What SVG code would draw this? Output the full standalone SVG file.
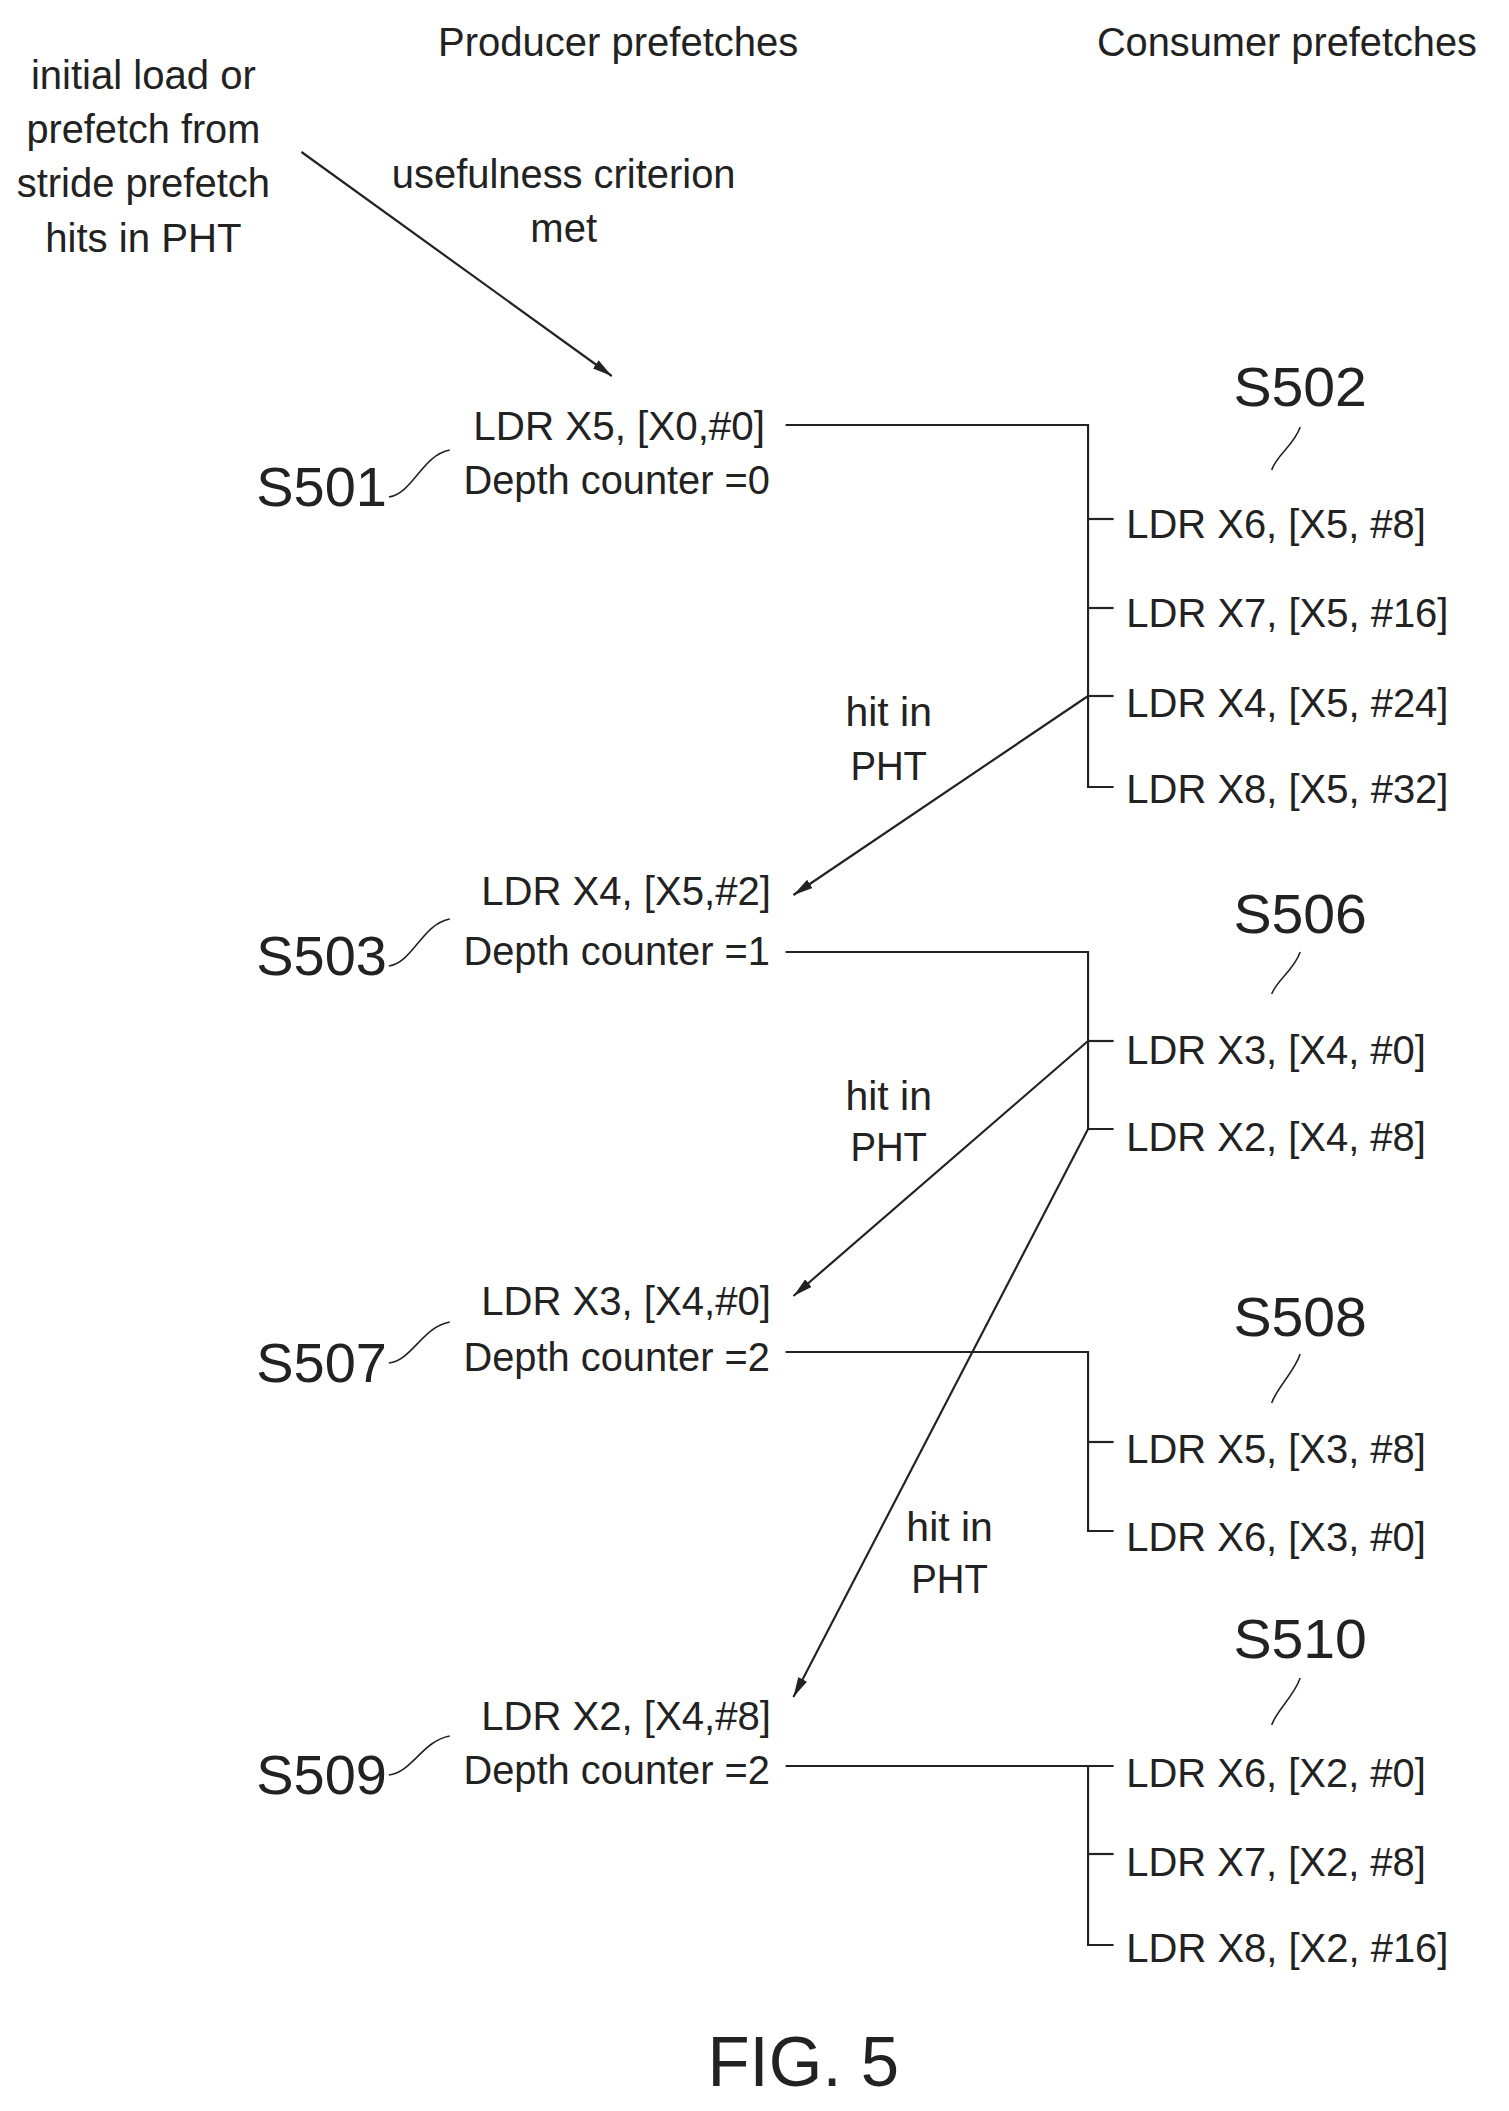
<svg xmlns="http://www.w3.org/2000/svg" width="1509" height="2111" viewBox="0 0 1509 2111">
<style>
text{font-family:"Liberation Sans",Arial,sans-serif;fill:#222;font-size:40px}
.s{font-size:56px}
.f{font-size:70px}
.m{text-anchor:middle}
line,path,polyline{stroke:#222;stroke-width:2.2;fill:none}
.ld{stroke-width:1.6}
</style>
<defs>
<marker id="ah" viewBox="0 0 20 10" refX="20" refY="5" markerWidth="20" markerHeight="10" markerUnits="userSpaceOnUse" orient="auto">
<path d="M0,0 L20,5 L0,10 Z" style="fill:#222;stroke:none"/>
</marker>
</defs>
<g transform="scale(0.982,1)">
<g id="headers">
<text x="446" y="56" textLength="367" lengthAdjust="spacingAndGlyphs">Producer prefetches</text>
<text x="1117" y="56" textLength="387" lengthAdjust="spacingAndGlyphs">Consumer prefetches</text>
</g>
<g id="initial">
<text class="m" x="146" y="89" textLength="229" lengthAdjust="spacingAndGlyphs">initial load or</text>
<text class="m" x="146" y="143" textLength="238" lengthAdjust="spacingAndGlyphs">prefetch from</text>
<text class="m" x="146" y="197" textLength="258" lengthAdjust="spacingAndGlyphs">stride prefetch</text>
<text class="m" x="146" y="252" textLength="200" lengthAdjust="spacingAndGlyphs">hits in PHT</text>
</g>
<g id="usefulness">
<text class="m" x="574" y="188" textLength="350" lengthAdjust="spacingAndGlyphs">usefulness criterion</text>
<text class="m" x="574" y="242" textLength="68" lengthAdjust="spacingAndGlyphs">met</text>
</g>
<g id="S501">
<text x="482" y="440" textLength="297" lengthAdjust="spacingAndGlyphs">LDR X5, [X0,#0]</text>
<text x="472" y="494" textLength="312" lengthAdjust="spacingAndGlyphs">Depth counter =0</text>
<text class="s" x="261" y="506" textLength="133" lengthAdjust="spacingAndGlyphs">S501</text>
<path class="ld" d="M396,497 C420,494 430,455 458,450"/>
</g>
<g id="S502">
<text class="s m" x="1324" y="406" textLength="136" lengthAdjust="spacingAndGlyphs">S502</text>
<path class="ld" d="M1324,427 C1318,445 1300,455 1295,470"/>
<text x="1147" y="538" textLength="305" lengthAdjust="spacingAndGlyphs">LDR X6, [X5, #8]</text>
<text x="1147" y="627" textLength="328" lengthAdjust="spacingAndGlyphs">LDR X7, [X5, #16]</text>
<text x="1147" y="717" textLength="328" lengthAdjust="spacingAndGlyphs">LDR X4, [X5, #24]</text>
<text x="1147" y="803" textLength="328" lengthAdjust="spacingAndGlyphs">LDR X8, [X5, #32]</text>
</g>
<g id="S503">
<text x="490" y="905" textLength="295" lengthAdjust="spacingAndGlyphs">LDR X4, [X5,#2]</text>
<text x="472" y="965" textLength="312" lengthAdjust="spacingAndGlyphs">Depth counter =1</text>
<text class="s" x="261" y="975" textLength="133" lengthAdjust="spacingAndGlyphs">S503</text>
<path class="ld" d="M396,966 C420,963 430,924 458,919"/>
</g>
<g id="S506">
<text class="s m" x="1324" y="933" textLength="136" lengthAdjust="spacingAndGlyphs">S506</text>
<path class="ld" d="M1324,952 C1318,970 1300,980 1295,994"/>
<text x="1147" y="1064" textLength="305" lengthAdjust="spacingAndGlyphs">LDR X3, [X4, #0]</text>
<text x="1147" y="1151" textLength="305" lengthAdjust="spacingAndGlyphs">LDR X2, [X4, #8]</text>
</g>
<g id="S507">
<text x="490" y="1315" textLength="295" lengthAdjust="spacingAndGlyphs">LDR X3, [X4,#0]</text>
<text x="472" y="1371" textLength="312" lengthAdjust="spacingAndGlyphs">Depth counter =2</text>
<text class="s" x="261" y="1382" textLength="133" lengthAdjust="spacingAndGlyphs">S507</text>
<path class="ld" d="M396,1363 C420,1360 430,1327 458,1322"/>
</g>
<g id="S508">
<text class="s m" x="1324" y="1336" textLength="136" lengthAdjust="spacingAndGlyphs">S508</text>
<path class="ld" d="M1324,1354 C1318,1372 1300,1388 1295,1403"/>
<text x="1147" y="1463" textLength="305" lengthAdjust="spacingAndGlyphs">LDR X5, [X3, #8]</text>
<text x="1147" y="1551" textLength="305" lengthAdjust="spacingAndGlyphs">LDR X6, [X3, #0]</text>
</g>
<g id="S509">
<text x="490" y="1730" textLength="295" lengthAdjust="spacingAndGlyphs">LDR X2, [X4,#8]</text>
<text x="472" y="1784" textLength="312" lengthAdjust="spacingAndGlyphs">Depth counter =2</text>
<text class="s" x="261" y="1794" textLength="133" lengthAdjust="spacingAndGlyphs">S509</text>
<path class="ld" d="M396,1775 C420,1772 430,1741 458,1736"/>
</g>
<g id="S510">
<text class="s m" x="1324" y="1658" textLength="136" lengthAdjust="spacingAndGlyphs">S510</text>
<path class="ld" d="M1324,1678 C1318,1696 1300,1710 1295,1725"/>
<text x="1147" y="1787" textLength="305" lengthAdjust="spacingAndGlyphs">LDR X6, [X2, #0]</text>
<text x="1147" y="1876" textLength="305" lengthAdjust="spacingAndGlyphs">LDR X7, [X2, #8]</text>
<text x="1147" y="1962" textLength="328" lengthAdjust="spacingAndGlyphs">LDR X8, [X2, #16]</text>
</g>
<g id="labels">
<text class="m" x="905" y="726" textLength="88" lengthAdjust="spacingAndGlyphs">hit in</text>
<text class="m" x="905" y="780" textLength="78" lengthAdjust="spacingAndGlyphs">PHT</text>
<text class="m" x="905" y="1110" textLength="88" lengthAdjust="spacingAndGlyphs">hit in</text>
<text class="m" x="905" y="1161" textLength="78" lengthAdjust="spacingAndGlyphs">PHT</text>
<text class="m" x="967" y="1541" textLength="88" lengthAdjust="spacingAndGlyphs">hit in</text>
<text class="m" x="967" y="1593" textLength="78" lengthAdjust="spacingAndGlyphs">PHT</text>
<text class="f m" x="818" y="2086" textLength="195" lengthAdjust="spacingAndGlyphs">FIG. 5</text>
</g>
<g id="connectors">
<line x1="307" y1="152" x2="623" y2="376" marker-end="url(#ah)"/>
<polyline points="800,425 1108,425 1108,787 1134,787"/>
<line x1="1108" y1="519" x2="1134" y2="519"/>
<line x1="1108" y1="608" x2="1134" y2="608"/>
<line x1="1108" y1="696" x2="1134" y2="696"/>
<polyline points="800,952 1108,952 1108,1129 1134,1129"/>
<line x1="1108" y1="1041" x2="1134" y2="1041"/>
<polyline points="800,1352 1108,1352 1108,1531 1134,1531"/>
<line x1="1108" y1="1442" x2="1134" y2="1442"/>
<line x1="800" y1="1766" x2="1134" y2="1766"/>
<polyline points="1108,1766 1108,1945 1134,1945"/>
<line x1="1108" y1="1854" x2="1134" y2="1854"/>
<line x1="1108" y1="696" x2="808" y2="895" marker-end="url(#ah)"/>
<line x1="1108" y1="1041" x2="808" y2="1296" marker-end="url(#ah)"/>
<line x1="1108" y1="1129" x2="808" y2="1697" marker-end="url(#ah)"/>
</g>
</g>
</svg>
